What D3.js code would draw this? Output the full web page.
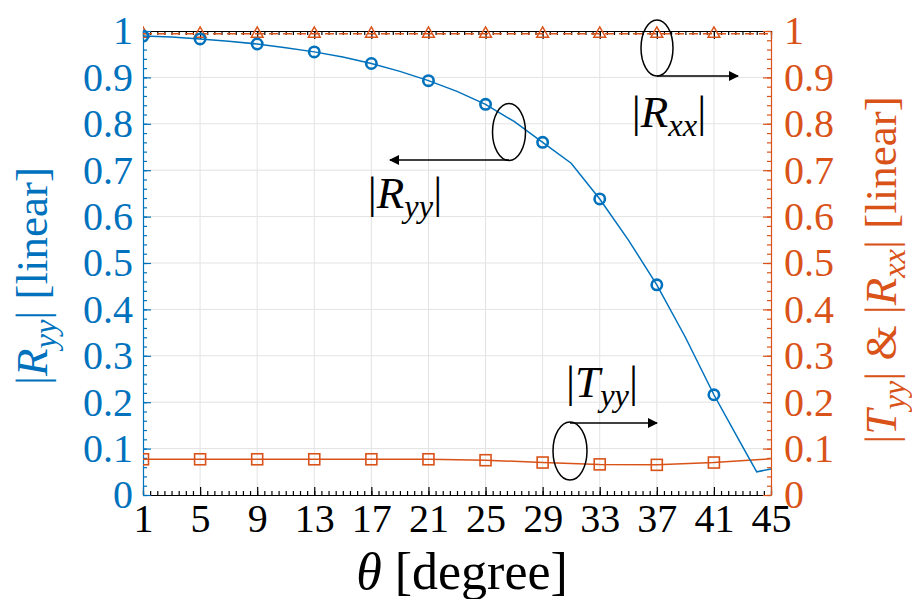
<!DOCTYPE html>
<html><head><meta charset="utf-8">
<script src="https://cdn.jsdelivr.net/npm/d3@7"></script>
<style>
body{margin:0;background:#fff}
svg text{font-family:"Liberation Serif","Times New Roman",serif}
</style></head><body>
<svg id="chart" width="912" height="599"></svg>
<script>
// Incidence angle (degrees) and the magnitudes of the reflection / transmission coefficients
const xTicks = [1,5,9,13,17,21,25,29,33,37,41,45];
const yTicks = [0,0.1,0.2,0.3,0.4,0.5,0.6,0.7,0.8,0.9,1];

// |Ryy| : curve and marked samples
const ryyAngles = [1,3,5,7,9,11,13,15,17,19,21,23,25,27,29,31,33,35,37,39,41,43,44,45];
const ryyValues = [0.989,0.987,0.983,0.978,0.972,0.964,0.955,0.944,0.930,0.913,0.893,0.870,0.842,0.805,0.760,0.715,0.638,0.550,0.453,0.340,0.216,0.105,0.050,0.056];
const ryyMarkAngles = [1,5,9,13,17,21,25,29,33,37,41];
const ryyMarkValues = [0.989,0.983,0.972,0.955,0.930,0.893,0.842,0.760,0.638,0.453,0.216];

// |Tyy| : curve and marked samples
const tyyAngles = [1,5,9,13,17,21,25,29,33,37,41,45];
const tyyValues = [0.077,0.077,0.077,0.077,0.077,0.077,0.075,0.070,0.066,0.065,0.070,0.078];
const tyyMarkAngles = [1,5,9,13,17,21,25,29,33,37,41];
const tyyMarkValues = [0.077,0.077,0.077,0.077,0.077,0.077,0.075,0.070,0.066,0.065,0.070];

// |Rxx| : nearly unit magnitude
const rxxAngles = [1,5,9,13,17,21,25,29,33,37,41,45];
const rxxValues = [0.994,0.994,0.994,0.994,0.994,0.994,0.994,0.994,0.994,0.994,0.994,0.994];
const rxxMarkAngles = [1,5,9,13,17,21,25,29,33,37,41];
const rxxMarkValues = [0.994,0.994,0.994,0.994,0.994,0.994,0.994,0.994,0.994,0.994,0.994];

const BLUE = "#0072BD", ORANGE = "#D95319", GRID = "#e3e3e3";
const L = 143, R = 771, T = 31, B = 495;
const TICK_FONT = 40, TITLE_FONT = 45, NOTE_FONT = 45;

const svg = d3.select("#chart");
const x = d3.scaleLinear().domain([1,45]).range([L,R]);
const yL = d3.scaleLinear().domain([0,1]).range([B,T]);
const yR = d3.scaleLinear().domain([0,1]).range([B,T]);

// grid
const grid = svg.append("g");
grid.selectAll("line.gx").data(xTicks.slice(1,-1)).join("line")
  .attr("x1", d=>x(d)).attr("x2", d=>x(d)).attr("y1", T).attr("y2", B)
  .attr("stroke", GRID).attr("stroke-width", 1);
grid.selectAll("line.gy").data(yTicks.slice(1,-1)).join("line")
  .attr("y1", d=>yL(d)).attr("y2", d=>yL(d)).attr("x1", L).attr("x2", R)
  .attr("stroke", GRID).attr("stroke-width", 1);

const minorX = d3.range(1, 45.001, 0.5);
const minorY = d3.range(0, 1.0001, 0.02);

function styleAxis(g, color) {
  g.select(".domain").attr("stroke", color).attr("stroke-width", 1.2);
  g.selectAll(".tick line").attr("stroke", color).attr("stroke-width", 1.2);
  g.selectAll(".tick text").attr("fill", color).attr("font-size", TICK_FONT);
}
function minor(axis, color) {
  return g => { g.call(axis); g.select(".domain").remove();
    g.selectAll("line").attr("stroke", color).attr("stroke-width", 1.2); };
}

// bottom axis (black)
const gB = svg.append("g").attr("transform", `translate(0,${B})`)
  .call(d3.axisBottom(x).tickValues(xTicks).tickFormat(d3.format("d")).tickSizeInner(-8).tickSizeOuter(0).tickPadding(9));
styleAxis(gB, "#000");
svg.append("g").attr("transform", `translate(0,${B})`)
  .call(minor(d3.axisBottom(x).tickValues(minorX).tickFormat("").tickSizeInner(-4).tickSizeOuter(0), "#000"));

// top axis mirror (black)
const gT = svg.append("g").attr("transform", `translate(0,${T})`)
  .call(d3.axisTop(x).tickValues(xTicks).tickFormat("").tickSizeInner(-8).tickSizeOuter(0));
styleAxis(gT, "#000");
svg.append("g").attr("transform", `translate(0,${T})`)
  .call(minor(d3.axisTop(x).tickValues(minorX).tickFormat("").tickSizeInner(-4).tickSizeOuter(0), "#000"));

const yFmt = d => d===0||d===1 ? d3.format("d")(d) : d3.format(".1f")(d);

// left axis (blue)
const gL = svg.append("g").attr("transform", `translate(${L},0)`)
  .call(d3.axisLeft(yL).tickValues(yTicks).tickFormat(yFmt).tickSizeInner(-8).tickSizeOuter(0).tickPadding(10));
styleAxis(gL, BLUE);
svg.append("g").attr("transform", `translate(${L},0)`)
  .call(minor(d3.axisLeft(yL).tickValues(minorY).tickFormat("").tickSizeInner(-4).tickSizeOuter(0), BLUE));

// right axis (orange)
const gR = svg.append("g").attr("transform", `translate(${R},0)`)
  .call(d3.axisRight(yR).tickValues(yTicks).tickFormat(yFmt).tickSizeInner(-8).tickSizeOuter(0).tickPadding(13));
styleAxis(gR, ORANGE);
svg.append("g").attr("transform", `translate(${R},0)`)
  .call(minor(d3.axisRight(yR).tickValues(minorY).tickFormat("").tickSizeInner(-4).tickSizeOuter(0), ORANGE));

// clip to the plotting area
svg.append("clipPath").attr("id","plotClip").append("rect")
  .attr("x", L).attr("y", T-8).attr("width", R-L).attr("height", B-T+8);
const plot = svg.append("g").attr("clip-path","url(#plotClip)");

const line = (ys) => d3.line().x(d=>x(d[0])).y(d=>ys(d[1]));

// |Rxx| dashed with triangles
plot.append("path").datum(d3.zip(rxxAngles, rxxValues))
  .attr("d", line(yR)).attr("fill","none").attr("stroke",ORANGE).attr("stroke-width",1.5)
  .attr("stroke-dasharray","9,5");
const tri = d3.symbol().type(d3.symbolTriangle).size(60);
plot.selectAll("path.rxx").data(d3.zip(rxxMarkAngles, rxxMarkValues)).join("path")
  .attr("transform", d=>`translate(${x(d[0])},${yR(d[1])})`)
  .attr("d", tri).attr("fill","none").attr("stroke",ORANGE).attr("stroke-width",1.5);

// |Tyy| with squares
plot.append("path").datum(d3.zip(tyyAngles, tyyValues))
  .attr("d", line(yR)).attr("fill","none").attr("stroke",ORANGE).attr("stroke-width",1.5);
plot.selectAll("rect.tyy").data(d3.zip(tyyMarkAngles, tyyMarkValues)).join("rect")
  .attr("x", d=>x(d[0])-5.5).attr("y", d=>yR(d[1])-5.5).attr("width",11).attr("height",11)
  .attr("fill","none").attr("stroke",ORANGE).attr("stroke-width",1.6);

// |Ryy| with circles
plot.append("path").datum(d3.zip(ryyAngles, ryyValues))
  .attr("d", line(yL)).attr("fill","none").attr("stroke",BLUE).attr("stroke-width",1.5);
plot.selectAll("circle.ryy").data(d3.zip(ryyMarkAngles, ryyMarkValues)).join("circle")
  .attr("cx", d=>x(d[0])).attr("cy", d=>yL(d[1])).attr("r",5.2)
  .attr("fill","none").attr("stroke",BLUE).attr("stroke-width",2.6);

// callouts: ellipse around a curve and an arrow toward its axis
const defs = svg.append("defs");
defs.append("marker").attr("id","arrow").attr("viewBox","0 0 10 10").attr("refX",9).attr("refY",5)
  .attr("markerWidth",11).attr("markerHeight",10).attr("markerUnits","userSpaceOnUse").attr("orient","auto")
  .append("path").attr("d","M0,0 L10,5 L0,10 Z").attr("fill","#000");
const ann = svg.append("g");
function callout(cx, cy, rx, ry, ay, bx) {
  ann.append("ellipse").attr("cx",cx).attr("cy",cy).attr("rx",rx).attr("ry",ry)
    .attr("fill","none").attr("stroke","#000").attr("stroke-width",1.5);
  ann.append("line").attr("x1",cx).attr("y1",ay).attr("x2",bx).attr("y2",ay)
    .attr("stroke","#000").attr("stroke-width",1.5).attr("marker-end","url(#arrow)");
}
callout(657, 48, 16, 28, 76, 738);
callout(509, 132, 16.5, 28.5, 160, 390);
callout(570, 451, 17, 29, 423, 657);

// |X_sub| label with italic symbol and lowered subscript
function absLabel(sel, sym, sub, size) {
  const sh = size * 0.2;
  sel.append("tspan").text("|");
  sel.append("tspan").attr("font-style","italic").text(sym);
  sel.append("tspan").attr("font-style","italic").attr("font-size",size*0.72).attr("dy",sh).text(sub);
  sel.append("tspan").attr("dy",-sh).text("|");
}
function note(xPos, yPos, sym, sub) {
  const t = ann.append("text").attr("x",xPos).attr("y",yPos).attr("font-size",NOTE_FONT)
    .attr("fill","#000").attr("text-anchor","middle");
  absLabel(t, sym, sub, NOTE_FONT);
}
note(669, 127, "R", "xx");
note(405, 208, "R", "yy");
note(602, 397, "T", "yy");

// axis titles
const xt = svg.append("text").attr("x", 462).attr("y", 589).attr("text-anchor","middle")
  .attr("font-size", 52).attr("fill","#000");
xt.append("tspan").attr("font-style","italic").text("θ");
xt.append("tspan").text(" [degree]");

const lt = svg.append("text").attr("transform","translate(47,276) rotate(-90)")
  .attr("text-anchor","middle").attr("font-size",TITLE_FONT).attr("fill",BLUE);
absLabel(lt, "R", "yy", TITLE_FONT);
lt.append("tspan").text(" [linear]");

const rt = svg.append("text").attr("transform","translate(896,270) rotate(-90)")
  .attr("text-anchor","middle").attr("font-size",TITLE_FONT).attr("fill",ORANGE);
absLabel(rt, "T", "yy", TITLE_FONT);
rt.append("tspan").text(" & ");
absLabel(rt, "R", "xx", TITLE_FONT);
rt.append("tspan").text(" [linear]");
</script>
</body></html>
